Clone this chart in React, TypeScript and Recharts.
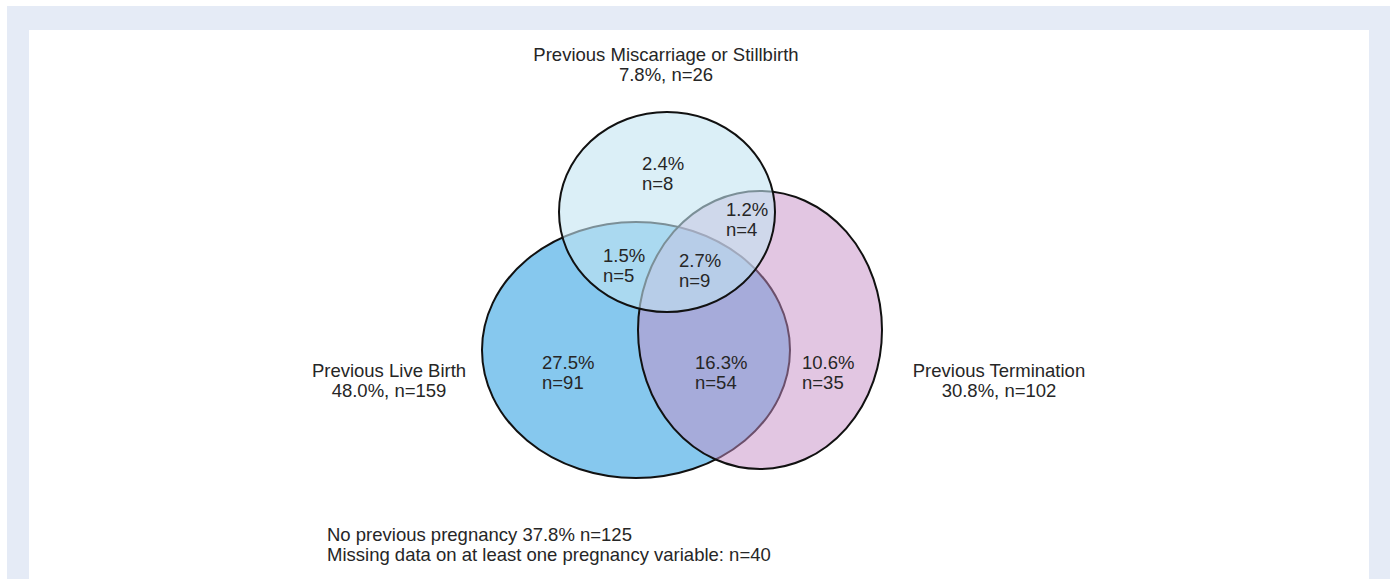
import React from "react";
import { ScatterChart, Scatter, XAxis, YAxis } from "recharts";

document.body.style.margin = "0";

const W = 1390;
const H = 579;

// sets, drawn in this order
const setNames = ["Previous Live Birth", "Previous Termination", "Previous Miscarriage or Stillbirth"];
const setPercents = ["48.0%", "30.8%", "7.8%"];
const setCounts = [159, 102, 26];

// region labels (percent, n)
const regionPercents = ["2.4%", "1.2%", "1.5%", "2.7%", "27.5%", "16.3%", "10.6%"];
const regionCounts = [8, 4, 5, 9, 91, 54, 35];

const footerLines = [
  "No previous pregnancy 37.8% n=125",
  "Missing data on at least one pregnancy variable: n=40",
];

// geometry in chart units (1 unit = 1px on both axes)
const setShapes = [
  { x: 636, y: 350, rx: 154, ry: 128, fill: "#86c8ee", fillOpacity: 1 },
  { x: 760, y: 330, rx: 122, ry: 139, fill: "#c58dc5", fillOpacity: 0.5 },
  { x: 667, y: 212, rx: 108, ry: 100, fill: "#c3e4f2", fillOpacity: 0.6 },
];
const setLabelPos = [
  { x: 389, y: 377 },
  { x: 999, y: 377 },
  { x: 666, y: 61 },
];
const regionLabelPos = [
  { x: 642, y: 170 },
  { x: 726, y: 216 },
  { x: 603, y: 262 },
  { x: 679, y: 267 },
  { x: 542, y: 369 },
  { x: 695, y: 369 },
  { x: 802, y: 369 },
];
const footerPos = { x: 327, y: 541 };

const font = "'Liberation Sans', Arial, sans-serif";
const textColor = "#262626";
const lineGap = 20;

const ellipseData = setShapes.map((s, i) => [{ ...s, name: setNames[i] }]);
const setLabelData = setLabelPos.map((p, i) => ({
  ...p,
  lines: [setNames[i], `${setPercents[i]}, n=${setCounts[i]}`],
}));
const regionLabelData = regionLabelPos.map((p, i) => ({
  ...p,
  lines: [regionPercents[i], `n=${regionCounts[i]}`],
}));
const footerData = [{ ...footerPos, lines: footerLines }];

const EllipseShape = (props: any) => {
  const { cx, cy, payload } = props;
  return (
    <ellipse
      cx={cx}
      cy={cy}
      rx={payload.rx}
      ry={payload.ry}
      fill={payload.fill}
      fillOpacity={payload.fillOpacity}
      stroke="#111"
      strokeWidth={2}
    />
  );
};

const makeTextShape = (anchor: "start" | "middle") => (props: any) => {
  const { cx, cy, payload } = props;
  return (
    <text x={cx} y={cy} textAnchor={anchor} fontFamily={font} fontSize={18.5} fill={textColor}>
      {payload.lines.map((l: string, i: number) => (
        <tspan key={i} x={cx} y={cy + i * lineGap}>
          {l}
        </tspan>
      ))}
    </text>
  );
};

export default function App() {
  return (
    <div style={{ position: "relative", width: W, height: H, background: "#fff" }}>
      <div style={{ position: "absolute", left: 7, top: 6, right: 0, bottom: 0, background: "#e5ebf6" }} />
      <div style={{ position: "absolute", left: 29, top: 30, width: 1369 - 29, bottom: 0, background: "#fff" }} />
      <div style={{ position: "absolute", left: 0, top: 0 }}>
        <ScatterChart width={W} height={H} margin={{ top: 0, right: 0, bottom: 0, left: 0 }}>
          <XAxis type="number" dataKey="x" domain={[0, W]} hide />
          <YAxis type="number" dataKey="y" domain={[0, H]} reversed hide />
          {ellipseData.map((d, i) => (
            <Scatter key={i} data={d} shape={EllipseShape} isAnimationActive={false} />
          ))}
          <Scatter data={regionLabelData} shape={makeTextShape("start")} isAnimationActive={false} />
          <Scatter data={setLabelData} shape={makeTextShape("middle")} isAnimationActive={false} />
          <Scatter data={footerData} shape={makeTextShape("start")} isAnimationActive={false} />
        </ScatterChart>
      </div>
    </div>
  );
}
